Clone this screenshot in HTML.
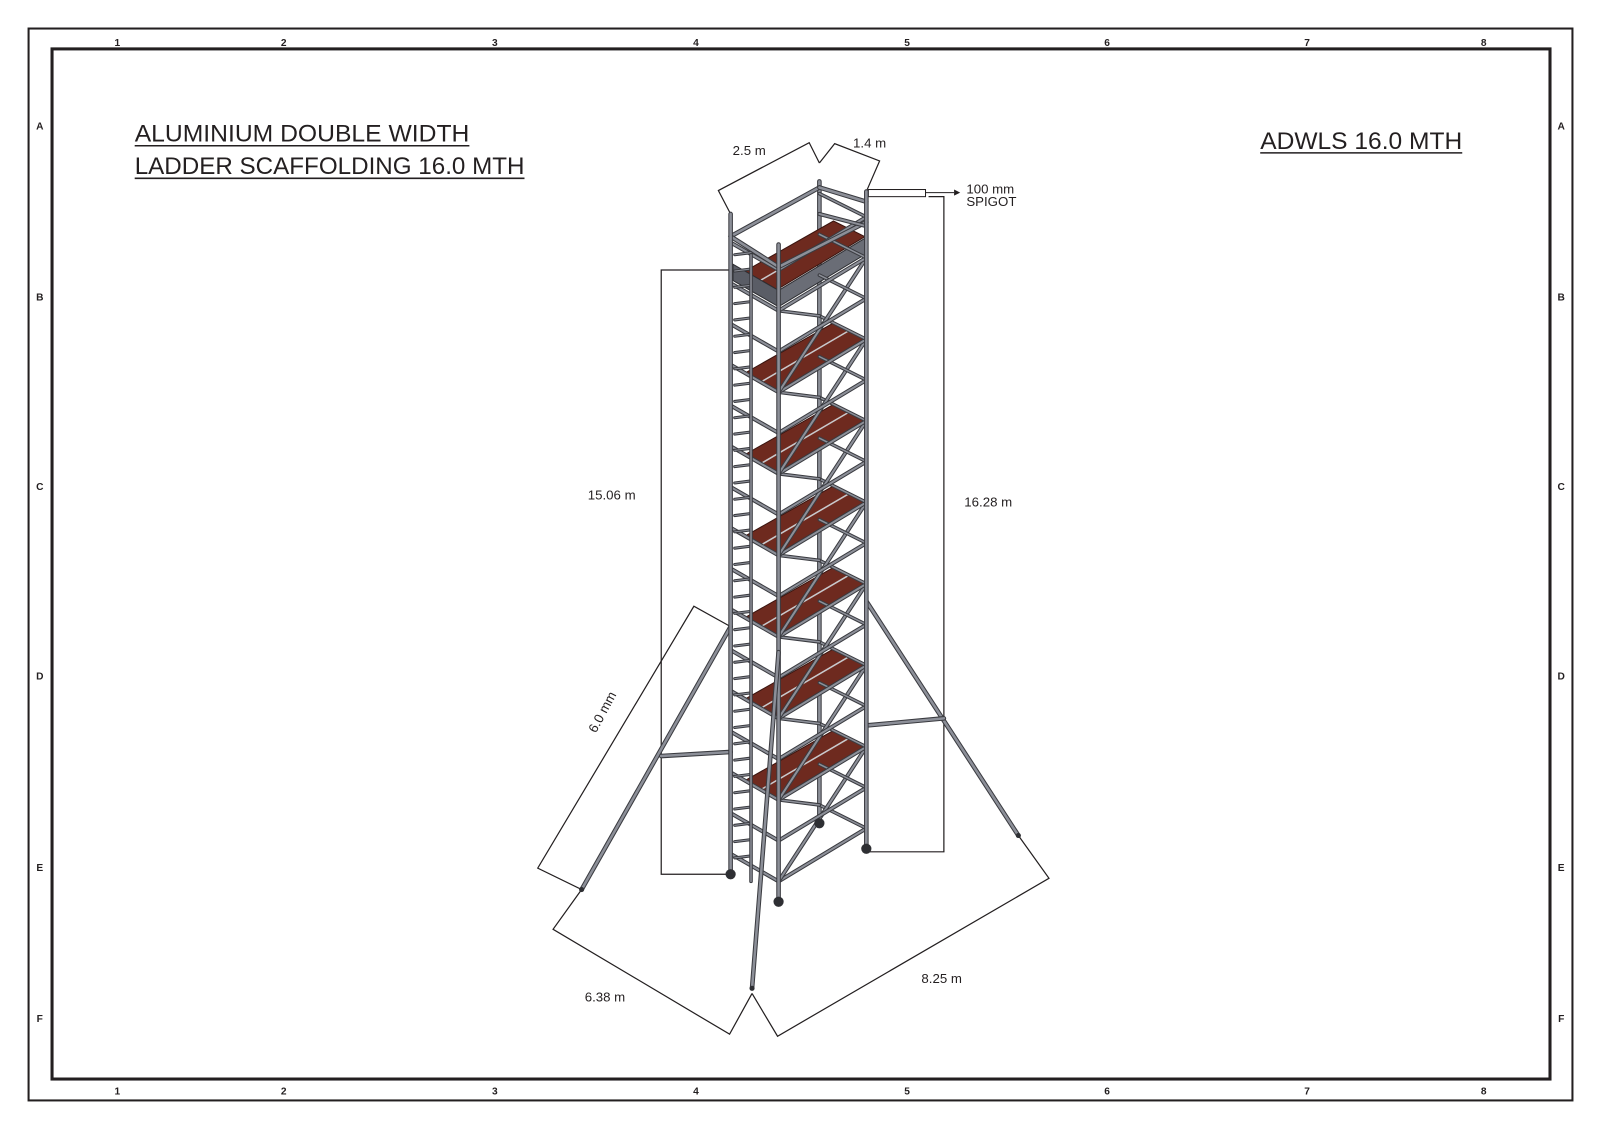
<!DOCTYPE html>
<html><head><meta charset="utf-8"><style>
html,body{margin:0;padding:0;background:#fff}
svg{display:block}
text{font-family:"Liberation Sans",sans-serif;fill:#231f20}
</style></head><body>
<svg id="s" width="1600" height="1131" viewBox="0 0 1568 1110" preserveAspectRatio="none" xmlns="http://www.w3.org/2000/svg">
<rect x="28" y="28" width="1513" height="1052" fill="none" stroke="#231f20" stroke-width="2"/>
<rect x="51" y="48" width="1468" height="1011" fill="none" stroke="#231f20" stroke-width="3"/>
<g font-size="10" font-weight="bold" text-anchor="middle">
<text x="115" y="45">1</text><text x="278" y="45">2</text><text x="485" y="45">3</text><text x="682" y="45">4</text><text x="889" y="45">5</text><text x="1085" y="45">6</text><text x="1281" y="45">7</text><text x="1454" y="45">8</text>
<text x="115" y="1074">1</text><text x="278" y="1074">2</text><text x="485" y="1074">3</text><text x="682" y="1074">4</text><text x="889" y="1074">5</text><text x="1085" y="1074">6</text><text x="1281" y="1074">7</text><text x="1454" y="1074">8</text>
<text x="39" y="127">A</text><text x="39" y="295">B</text><text x="39" y="481">C</text><text x="39" y="667">D</text><text x="39" y="855">E</text><text x="39" y="1003">F</text>
<text x="1530" y="127">A</text><text x="1530" y="295">B</text><text x="1530" y="481">C</text><text x="1530" y="667">D</text><text x="1530" y="855">E</text><text x="1530" y="1003">F</text>
</g>
<g font-size="24">
<text x="132" y="139" textLength="328" lengthAdjust="spacingAndGlyphs">ALUMINIUM DOUBLE WIDTH</text>
<text x="132" y="171" textLength="382" lengthAdjust="spacingAndGlyphs">LADDER SCAFFOLDING 16.0 MTH</text>
<text x="1235" y="146" textLength="198" lengthAdjust="spacingAndGlyphs">ADWLS 16.0 MTH</text>
</g>
<line x1="132" y1="143" x2="460" y2="143" stroke="#231f20" stroke-width="1.5"/>
<line x1="132" y1="175" x2="514" y2="175" stroke="#231f20" stroke-width="1.5"/>
<line x1="1235" y1="150" x2="1433" y2="150" stroke="#231f20" stroke-width="1.5"/>
<g fill="none" stroke="#231f20" stroke-width="1.2">
<polyline points="716,265 648,265 648,858 716,858"/>
<polyline points="910,193 925,193 925,836 849,836"/>
<polyline points="716,615 680,595 527,852 570,873"/>
<polyline points="570,873 542,912 715,1015 737,975"/>
<polyline points="737,975 762,1017 1028,862 998,820"/>
<polyline points="716,210 704,187 793,140 803,160"/>
<polyline points="803,160 818,141 862,158 849,188"/>
</g>
<rect x="851" y="186" width="56" height="7" fill="#fff" stroke="#231f20" stroke-width="1"/>
<line x1="907" y1="189" x2="935" y2="189" stroke="#231f20" stroke-width="1"/>
<polygon points="935,186 941,189 935,192" fill="#231f20"/>
<g font-size="13">
<text x="947" y="190">100 mm</text><text x="947" y="202">SPIGOT</text>
<text x="718" y="152">2.5 m</text><text x="836" y="145">1.4 m</text>
<text x="576" y="490">15.06 m</text><text x="945" y="497">16.28 m</text>
<text x="573" y="983">6.38 m</text><text x="903" y="965">8.25 m</text>
<text x="0" y="0" transform="translate(584,720) rotate(-62)">6.0 mm</text>
</g>
<g id="tower"></g>
</svg>
<script>
(function(){
var g=document.getElementById('tower'),NS='http://www.w3.org/2000/svg';
function el(t,a){var e=document.createElementNS(NS,t);for(var k in a)e.setAttribute(k,a[k]);g.appendChild(e);return e;}
function tube(x1,y1,x2,y2,w){w=w||3;el('line',{x1:x1,y1:y1,x2:x2,y2:y2,stroke:'#3a3b40','stroke-width':w+1.5,'stroke-linecap':'round'});el('line',{x1:x1,y1:y1,x2:x2,y2:y2,stroke:'#8c8f98','stroke-width':w-0.5,'stroke-linecap':'round'});}
var P={A:[716,858],B:[763,885],C:[849,833],D:[803,810]};
function pt(n,h){return [P[n][0],P[n][1]-h];}
function lerp(a,b,t){return [a[0]+(b[0]-a[0])*t,a[1]+(b[1]-a[1])*t];}
function poly(pts,f,s){el('polygon',{points:pts.map(function(p){return p.join(',')}).join(' '),fill:f,stroke:s,'stroke-width':1});}
var TH=648;
tube(716,615,570,873,3);tube(849,590,998,820,3);
tube(648,742,716,738,3);tube(849,712,925,705,3);
tube(803,810,803,178,3);
for(var k=0;k<7;k++){var h=100+80*k;if(k==6)h=600;
 var a=pt('A',h),b=pt('B',h),c=pt('C',h),d=pt('D',h);
 var p1=lerp(a,b,0.3),p2=lerp(d,c,0.3),p3=lerp(d,c,0.97),p4=lerp(a,b,0.97);
 poly([p1,p2,p3,p4],'#6e2a1f','#3a1510');
 var q1=lerp(a,b,0.63),q2=lerp(d,c,0.63);
 el('line',{x1:q1[0],y1:q1[1],x2:q2[0],y2:q2[1],stroke:'#c9c9cc','stroke-width':1.5});
 if(k==6){var e1=lerp(a,b,0.05),e2=lerp(a,b,1);poly([e1,[e1[0],e1[1]+16],[e2[0],e2[1]+16],e2],'#5a5d66','#2e2f33');
  var f2=lerp(d,c,1);poly([e2,[e2[0],e2[1]+16],[f2[0],f2[1]+16],f2],'#6a6d76','#2e2f33');}
}
for(var h=20;h<=TH-10;h+=40){
 var a=pt('A',h),b=pt('B',h),c=pt('C',h),d=pt('D',h);
 tube(a[0],a[1],b[0],b[1],2.5);tube(b[0],b[1],c[0],c[1],2.5);
 tube(d[0],d[1],c[0],c[1],2);
 if(h%80==20&&h+80<=TH){var c2=pt('C',h+80),b2=pt('B',h+80),d2=pt('D',h+80);tube(b[0],b[1],c2[0],c2[1],2.5);tube(d[0],d[1],b2[0],b2[1],2);}
}
var ta=pt('A',TH),td=pt('D',TH),tc=pt('C',TH),tb=pt('B',TH-30);
tube(716,232,803,184,3);tube(803,184,849,198,3);tube(763,262,849,218,3);tube(716,232,763,262,3);tube(803,210,849,222,2.5);
for(var y=250;y<850;y+=16){tube(720,y,736,y-2,1.5);}
tube(736,250,736,865,2);
tube(716,858,716,210,3);tube(763,885,763,240,3);tube(849,833,849,188,3);
tube(763,640,737,970,3);
[[716,856],[763,883],[849,831],[803,806]].forEach(function(p){el('circle',{cx:p[0],cy:p[1]+2,r:5,fill:'#2e2f33'});});
[[570,873],[998,820],[737,970]].forEach(function(p){el('circle',{cx:p[0],cy:p[1],r:2.5,fill:'#2e2f33'});});
})();
</script>
</body></html>
